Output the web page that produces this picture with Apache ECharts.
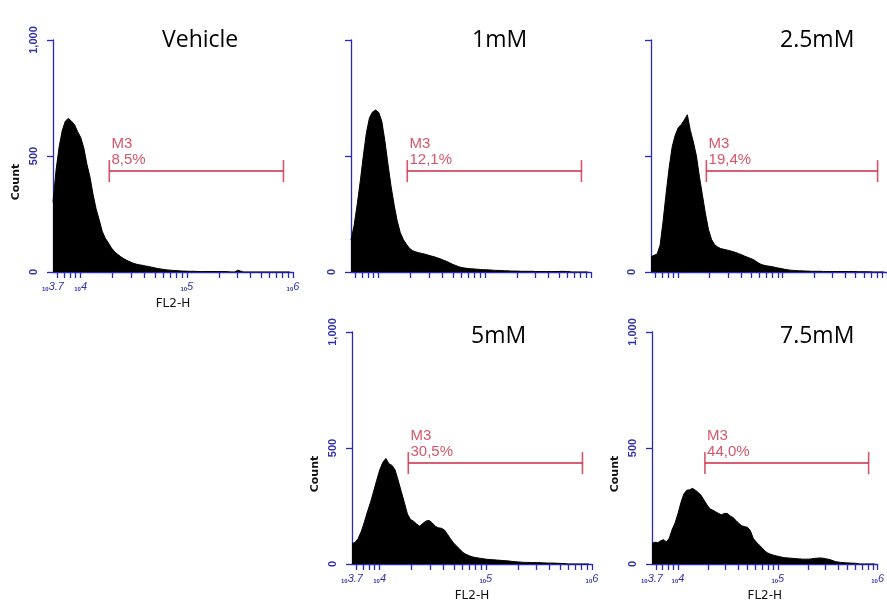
<!DOCTYPE html>
<html>
<head>
<meta charset="utf-8">
<style>
  html, body { margin: 0; padding: 0; background: #fff; }
  #chart { width: 887px; height: 605px; }
</style>
<script src="https://cdn.jsdelivr.net/npm/echarts@6.0.0/dist/echarts.min.js"></script>
</head>
<body>
<div id="chart"></div>
<script>
// FL2-H channel positions (log10 of fluorescence)
var fl2Bins = [
  3.740, 3.769, 3.798, 3.827, 3.856, 3.885, 3.914, 3.943, 3.972, 4.001,
  4.030, 4.059, 4.088, 4.117, 4.146, 4.175, 4.204, 4.233, 4.262, 4.291,
  4.320, 4.349, 4.378, 4.407, 4.436, 4.465, 4.494, 4.523, 4.552, 4.581,
  4.610, 4.639, 4.668, 4.697, 4.726, 4.755, 4.784, 4.813, 4.842, 4.871,
  4.900, 4.929, 4.958, 4.987, 5.016, 5.045, 5.074, 5.103, 5.132, 5.161,
  5.190, 5.219, 5.248, 5.277, 5.306, 5.335, 5.364, 5.393, 5.422, 5.451,
  5.480, 5.53, 5.58, 5.63, 5.68, 5.73, 5.78, 5.82, 5.87, 5.92, 5.97
];

var vehicleCounts = [
  300, 440, 540, 610, 650, 662, 650, 635, 605, 580,
  535, 465, 410, 335, 272, 225, 175, 145, 125, 103,
  88, 76, 66, 57, 50, 44, 38, 34, 31, 29,
  26, 24, 21, 18, 15, 13, 11, 9, 8, 7,
  6, 5, 4, 4, 3, 3, 3, 2, 2, 2,
  2, 2, 2, 2, 2, 2, 2, 1, 0, 0,
  8, 0, 0, 0, 0, 0, 0, 0, 0, 0, 0
];
var mM1Counts = [
  138, 200, 290, 390, 500, 600, 665, 690, 698, 688,
  650, 565, 465, 370, 290, 220, 170, 140, 120, 102,
  92, 87, 83, 80, 77, 73, 69, 66, 61, 57,
  51, 46, 40, 33, 28, 23, 19, 17, 15, 14,
  13, 12, 11, 10, 10, 9, 8, 7, 7, 6,
  5, 5, 4, 4, 4, 3, 3, 3, 3, 3,
  2, 2, 2, 2, 2, 3, 2, 0, 0, 0, 0
];
var mM25Counts = [
  66, 72, 77, 115, 220, 340, 450, 540, 590, 622,
  636, 655, 678, 610, 560, 500, 410, 330, 250, 182,
  140, 118, 108, 101, 98, 95, 92, 88, 84, 79,
  74, 68, 63, 58, 52, 43, 35, 30, 27, 25,
  23, 20, 17, 15, 12, 10, 8, 7, 6, 5,
  5, 4, 4, 3, 3, 3, 3, 2, 2, 2,
  2, 2, 2, 2, 2, 1, 1, 1, 0, 0, 0
];
var mM5Counts = [
  88, 93, 110, 140, 180, 225, 265, 312, 360, 405,
  438, 455, 432, 425, 405, 360, 312, 265, 215, 192,
  184, 172, 163, 175, 185, 188, 178, 163, 156, 154,
  147, 128, 108, 90, 77, 64, 50, 42, 36, 31,
  28, 26, 24, 22, 20, 19, 18, 17, 16, 15,
  14, 13, 11, 10, 9, 8, 7, 7, 6, 6,
  6, 5, 4, 4, 3, 2, 0, 0, 0, 0, 0
];
var mM75Counts = [
  89, 94, 92, 100, 105, 95, 112, 150, 178, 218,
  265, 302, 318, 320, 326, 318, 308, 295, 275, 255,
  238, 232, 225, 218, 212, 218, 218, 207, 200, 188,
  175, 165, 161, 158, 143, 110, 95, 82, 70, 56,
  47, 42, 38, 35, 32, 29, 27, 26, 25, 24,
  23, 22, 21, 21, 21, 22, 24, 25, 26, 25,
  23, 18, 10, 7, 5, 4, 3, 0, 0, 0, 0
];

var panelTitles = ['Vehicle', '1mM', '2.5mM', '5mM', '7.5mM'];
var gatePercents = ['8,5%', '12,1%', '19,4%', '30,5%', '44,0%'];
var gateName = 'M3';
var gateBounds = [4.27, 5.91];
var gateLevel = 435;

var countTicks = [0, 500, 1000];
var countTickLabels = ['0', '500', '1,000'];
var fl2LabelValues = [3.74, 4, 5, 6];
var fl2LabelText = ['3.7', '4', '5', '6'];
var fl2TickValues = [
  3.778, 3.845, 3.903, 3.954,
  4, 4.301, 4.477, 4.602, 4.699, 4.778, 4.845, 4.903, 4.954,
  5, 5.301, 5.477, 5.602, 5.699, 5.778, 5.845, 5.903, 5.954, 6
];

var blue = '#2a2ab8';
var labelBlue = '#3333a8';
var red = '#cc2a44';

// layout of the five panels
var panels = [
  { counts: vehicleCounts, left: 53,  top: 40,  yLabels: true,  xLabels: true,  titleX: 157, titleY: 24 },
  { counts: mM1Counts,     left: 351, top: 40,  yLabels: false, xLabels: false, titleX: 467, titleY: 24 },
  { counts: mM25Counts,    left: 651, top: 40,  yLabels: false, xLabels: false, titleX: 775, titleY: 24 },
  { counts: mM5Counts,     left: 352, top: 332, yLabels: true,  xLabels: true,  titleX: 466, titleY: 320 },
  { counts: mM75Counts,    left: 652, top: 332, yLabels: true,  xLabels: true,  titleX: 775, titleY: 320 }
];

var chart = echarts.init(document.getElementById('chart'), null, { renderer: 'canvas' });

var grids = [], xAxes = [], yAxes = [], series = [], titles = [];

panels.forEach(function (p, i) {
  grids.push({ left: p.left, top: p.top, width: 240, height: 232 });

  titles.push({
    text: panelTitles[i],
    left: p.titleX,
    top: p.titleY,
    textStyle: { fontFamily: 'Open Sans', fontSize: 23, fontWeight: 'normal', color: '#000' }
  });

  xAxes.push({
    gridIndex: i,
    type: 'value',
    min: 3.74,
    max: 6,
    name: p.xLabels ? 'FL2-H' : '',
    nameLocation: 'middle',
    nameGap: 26,
    nameTextStyle: { fontFamily: 'DejaVu Sans', fontSize: 12, color: '#111' },
    axisLine: { show: true, lineStyle: { color: blue, width: 1.3 } },
    axisTick: { show: true, length: 6, customValues: fl2TickValues, lineStyle: { color: blue, width: 1.3 } },
    axisLabel: {
      show: p.xLabels,
      customValues: fl2LabelValues,
      margin: 9,
      formatter: function (v) {
        var k = fl2LabelValues.indexOf(v);
        return '{b|10}{e|' + fl2LabelText[k] + '}';
      },
      rich: {
        b: { fontFamily: 'Liberation Sans', fontSize: 6, fontWeight: 'bold', color: labelBlue, verticalAlign: 'bottom', padding: [4, 0, 0, 0] },
        e: { fontFamily: 'Liberation Sans', fontSize: 11, fontStyle: 'italic', color: labelBlue }
      }
    },
    splitLine: { show: false }
  });

  yAxes.push({
    gridIndex: i,
    type: 'value',
    min: 0,
    max: 1000,
    interval: 500,
    name: p.yLabels ? 'Count' : '',
    nameLocation: 'middle',
    nameRotate: 90,
    nameGap: 31,
    nameTextStyle: { fontFamily: 'DejaVu Sans', fontSize: 11, fontWeight: 'bold', color: '#111', padding: [0, 52, 0, 0] },
    axisLine: { show: true, lineStyle: { color: blue, width: 1.3 } },
    axisTick: { show: true, length: 6, lineStyle: { color: blue, width: 1.3 } },
    axisLabel: {
      rotate: 90,
      margin: 14,
      fontFamily: 'Liberation Sans',
      fontSize: 11,
      fontWeight: 'bold',
      color: labelBlue,
      formatter: function (v) {
        var k = countTicks.indexOf(v);
        if (!p.yLabels && v !== 0) return '';
        return countTickLabels[k];
      }
    },
    splitLine: { show: false }
  });

  series.push({
    type: 'line',
    xAxisIndex: i,
    yAxisIndex: i,
    symbol: 'none',
    silent: true,
    lineStyle: { color: '#000', width: 1 },
    areaStyle: { color: '#000', opacity: 1 },
    data: fl2Bins.map(function (b, j) { return [b, p.counts[j]]; }),
    z: 2
  });

  series.push({
    type: 'line',
    xAxisIndex: i,
    yAxisIndex: i,
    symbol: 'none',
    silent: true,
    lineStyle: { color: red, width: 1.5 },
    data: [[gateBounds[0], gateLevel], [gateBounds[1], gateLevel]],
    z: 3
  });

  series.push({
    type: 'scatter',
    xAxisIndex: i,
    yAxisIndex: i,
    symbol: 'rect',
    symbolSize: [1.6, 22],
    silent: true,
    itemStyle: { color: red },
    data: [
      {
        value: [gateBounds[0], gateLevel],
        label: {
          show: true,
          position: [3, -24],
          formatter: gateName + '\n' + gatePercents[i],
          fontFamily: 'Liberation Sans',
          fontSize: 15,
          lineHeight: 16,
          color: red
        }
      },
      { value: [gateBounds[1], gateLevel] }
    ],
    z: 3
  });
});

chart.setOption({
  backgroundColor: '#fff',
  animation: false,
  title: titles,
  grid: grids,
  xAxis: xAxes,
  yAxis: yAxes,
  series: series
});
</script>
</body>
</html>
